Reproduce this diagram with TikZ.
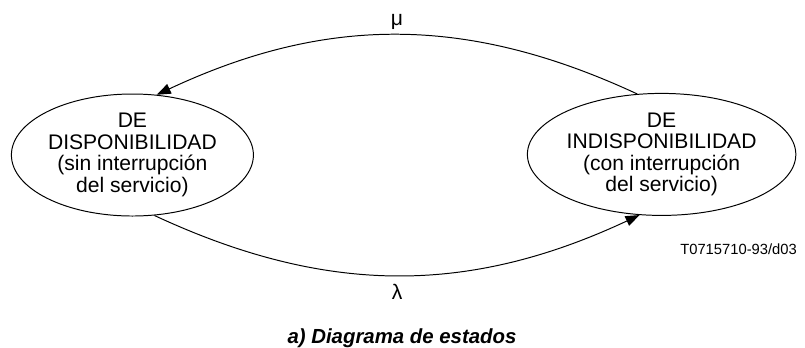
\documentclass[tikz,border=0pt]{standalone}
\usepackage{fontspec}
\setmainfont{Liberation Sans}
\usetikzlibrary{arrows.meta, shapes.geometric, positioning}

\begin{document}
\begin{tikzpicture}[
		state/.style={ellipse, draw, line width=0.7pt, minimum width=6.05cm, minimum height=3.05cm, inner sep=0pt, align=center, font=\fontsize{15}{15.3}\selectfont},
		every edge/.style={->, line width=0.7pt},
		->,>={Triangle[length=3.5mm, width=2.6mm]}, line width=0.7pt
		]
		\useasboundingbox (0,0) rectangle (20.125,-8.675);
	
		\node[state] (disp) at (3.31, -3.875) {DE\\DISPONIBILIDAD\\(sin interrupción\\del servicio)};
		\node[state] (indisp) at (16.54, -3.86) {DE\\INDISPONIBILIDAD\\(con interrupción\\del servicio)};
	
		\draw (indisp.112) to[bend right=25] node[midway, above, font=\fontsize{15}{15.3}\selectfont] {μ} (disp.68);
		\draw (disp.-70) to[bend right=25] node[midway, below=3pt, font=\fontsize{15}{15.3}\selectfont] {λ} (indisp.-110);
	
		\node[font=\fontsize{10.5}{12}\selectfont, anchor=east] (code) at (20.05, -6.22) {T0715710-93/d03};
		\node[font=\fontsize{14.5}{15}\selectfont\bfseries\itshape] (caption) at (10.05, -8.45) {a) Diagrama de estados};
	
	\end{tikzpicture}
\end{document}
